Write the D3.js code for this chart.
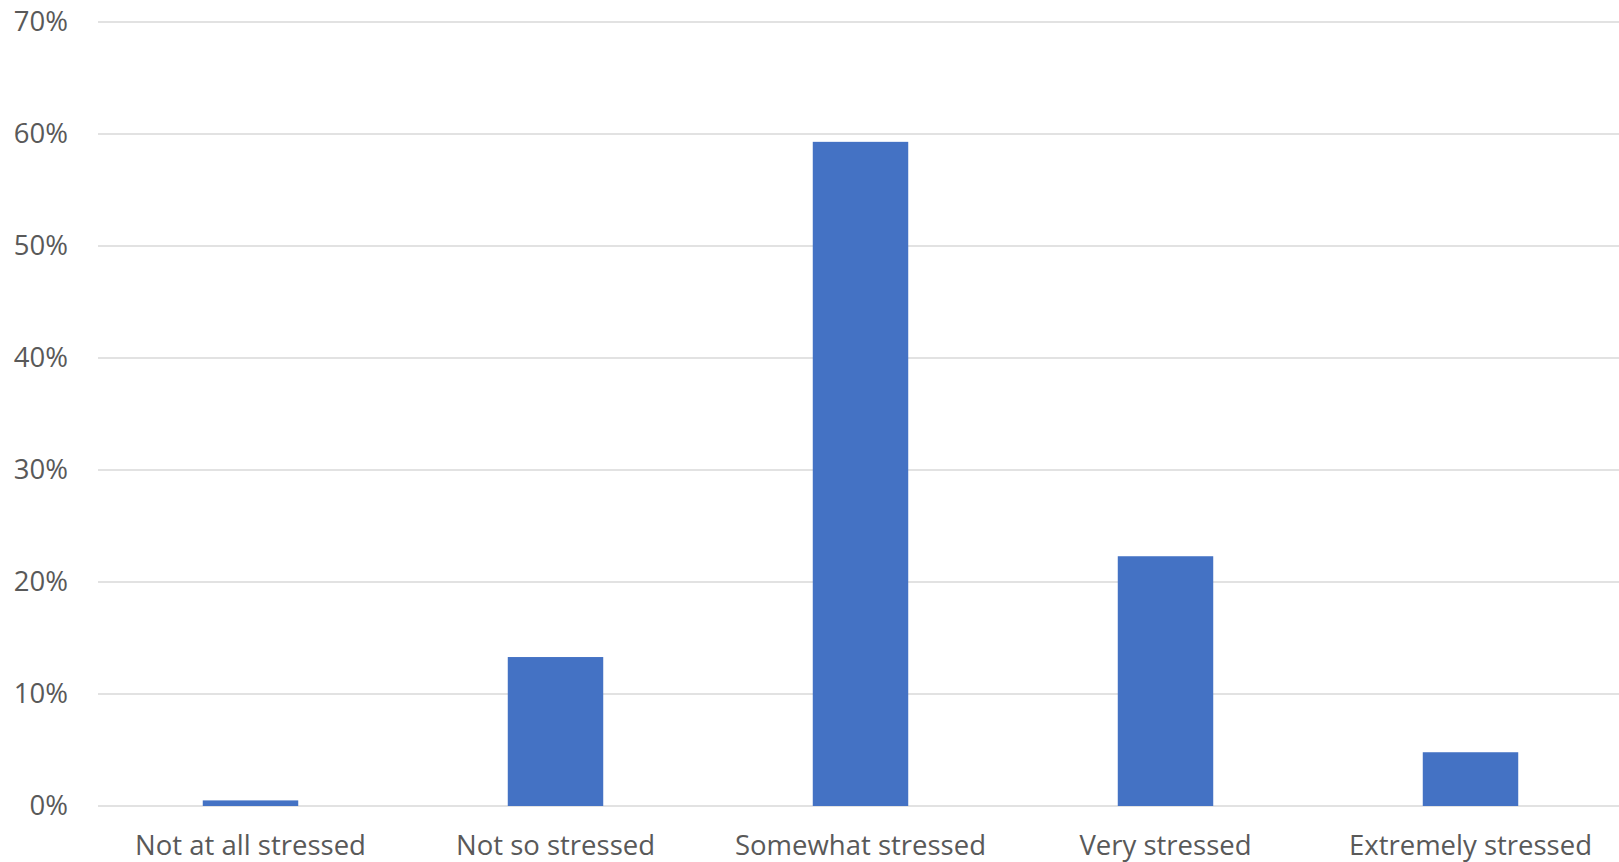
<!DOCTYPE html>
<html>
<head>
<meta charset="utf-8">
<script src="https://cdn.jsdelivr.net/npm/d3@7"></script>
<style>
  html, body { margin: 0; padding: 0; background: #fff; }
  svg { display: block; }
  text { font-family: "Open Sans", sans-serif; fill: #595959; }
</style>
</head>
<body>
<svg id="chart" width="1619" height="862"></svg>
<script>
const categories = ["Not at all stressed", "Not so stressed", "Somewhat stressed", "Very stressed", "Extremely stressed"];
const values = [0.005, 0.133, 0.593, 0.223, 0.048];
const yTicks = [0, 0.1, 0.2, 0.3, 0.4, 0.5, 0.6, 0.7];

const svg = d3.select("#chart");
const plotLeft = 98, plotRight = 1623, plotTop = 22, plotBottom = 806;

const x = d3.scaleBand().domain(categories).range([plotLeft, plotRight]).padding(0);
const y = d3.scaleLinear().domain([0, 0.7]).range([plotBottom, plotTop]);
const barW = x.bandwidth() * 0.313;

// gridlines
svg.append("g")
  .selectAll("line")
  .data(yTicks)
  .join("line")
  .attr("x1", plotLeft)
  .attr("x2", plotRight)
  .attr("y1", d => y(d))
  .attr("y2", d => y(d))
  .attr("stroke", "#d9d9d9")
  .attr("stroke-width", 1.5);

// y axis labels
const yAxis = d3.axisLeft(y)
  .tickValues(yTicks)
  .tickFormat(d3.format(".0%"))
  .tickSize(0)
  .tickPadding(30);
const ya = svg.append("g").attr("transform", `translate(${plotLeft},0)`).call(yAxis);
ya.select(".domain").remove();
ya.selectAll("text").attr("font-size", "27.5px").style("font-family", "'Open Sans', sans-serif").attr("fill", "#595959");

// bars
svg.append("g")
  .selectAll("rect")
  .data(values)
  .join("rect")
  .attr("x", (d, i) => x(categories[i]) + x.bandwidth() / 2 - barW / 2)
  .attr("width", barW)
  .attr("y", d => y(d))
  .attr("height", d => y(0) - y(d))
  .attr("fill", "#4472C4");

// x axis labels
const xAxis = d3.axisBottom(x).tickSize(0).tickPadding(29.5);
const xa = svg.append("g").attr("transform", `translate(0,${plotBottom})`).call(xAxis);
xa.select(".domain").remove();
xa.selectAll("text").attr("font-size", "27.5px").style("font-family", "'Open Sans', sans-serif").attr("fill", "#595959");
</script>
</body>
</html>
